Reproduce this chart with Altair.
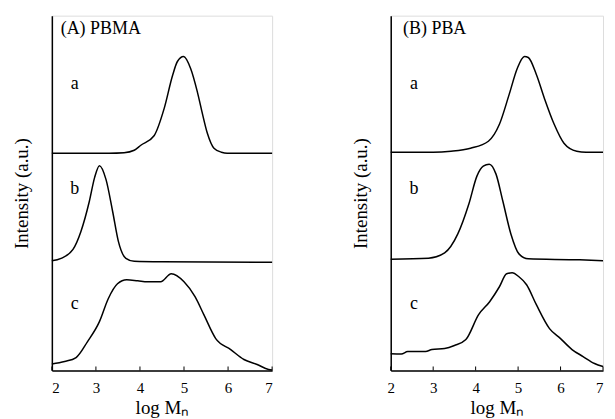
import altair as alt
import pandas as pd

# ---- data (log Mn, intensity in a.u. above each curve's own baseline) ----
A_a_x = [2.0, 3.3, 3.64, 3.87, 4.02, 4.32, 4.55, 4.74, 4.85, 4.99, 5.15, 5.30, 5.40, 5.53, 5.68, 5.85, 5.98, 7.0]
A_a_y = [0, 0, 0.5, 3, 8, 17.5, 45, 78, 92, 97, 85, 62, 43, 20, 5, 1, 0, 0]
A_b_x = [2.0, 2.21, 2.48, 2.66, 2.85, 2.97, 3.08, 3.23, 3.38, 3.51, 3.68, 3.87, 4.5, 7.0]
A_b_y = [1.5, 4, 13, 31, 61, 85, 97, 83, 51, 21, 4, 1, 0.5, 0]
A_c_x = [2.0, 2.29, 2.55, 2.81, 3.08, 3.28, 3.49, 3.70, 3.95, 4.17, 4.47, 4.71, 5.00, 5.25, 5.45, 5.72, 6.06, 6.36, 6.66, 6.92, 7.0]
A_c_y = [6.5, 9, 13, 29, 49, 72, 87, 91, 90, 89, 89, 97, 89, 74, 56, 32, 21, 11, 6, 1, 0.5]

B_a_x = [2.0, 3.0, 3.42, 3.88, 4.30, 4.56, 4.79, 4.98, 5.15, 5.24, 5.43, 5.62, 5.85, 6.08, 6.38, 6.6, 7.0]
B_a_y = [0, 0, 1, 4, 11, 28, 58, 84, 96, 95, 78, 54, 28, 9, 1, 0, 0]
B_b_x = [2.0, 2.89, 3.27, 3.58, 3.84, 4.03, 4.18, 4.32, 4.48, 4.64, 4.83, 5.02, 5.24, 6.45, 7.0]
B_b_y = [1.7, 2.7, 8, 27, 57, 85, 95, 97, 87, 60, 27, 7, 2, 1, 0]
B_c_x = [2.0, 2.25, 2.40, 2.82, 2.97, 3.27, 3.50, 3.77, 4.07, 4.33, 4.56, 4.73, 4.86, 5.02, 5.20, 5.43, 5.74, 6.00, 6.27, 6.53, 6.80, 7.0]
B_c_y = [16.7, 16.5, 19, 19, 21, 22, 25, 31, 56, 69, 84, 97, 98, 94, 86, 66, 42, 32, 21, 14, 7, 4]

curve_names = ["a", "b", "c"]
A_offsets = [2.18, 1.085, 0.0]
B_offsets = [2.19, 1.10, 0.0]
scale_div = 100.0

panel_titles = ["(A) PBMA", "(B) PBA"]
title_x = [2.2, 2.29]
title_y = 3.38
letter_x = [[2.52, 2.52, 2.52], [2.545, 2.545, 2.545]]
letter_y = [2.82, 1.77, 0.62]
tick_values = [2, 3, 4, 5, 6, 7]

FONT = "Liberation Serif"


def build_df(xs, ys, offsets):
    rows = []
    for name, x, y, off in zip(curve_names, xs, ys, offsets):
        for xi, yi in zip(x, y):
            rows.append({"curve": name, "x": xi, "y": off + yi / scale_div})
    return pd.DataFrame(rows)


def panel(df, title, tx, lx, width, flush_last=False):
    xs = alt.Scale(domain=[2, 7], nice=False, zero=False)
    ys = alt.Scale(domain=[0, 3.56], nice=False, zero=False)
    xaxis_kw = dict(values=tick_values, format="d", ticks=False, grid=False,
                    domainColor="black", domainWidth=1.5,
                    labelFont=FONT, labelFontSize=15, labelColor="black", labelPadding=10,
                    title="log Mₙ", titleFont=FONT, titleFontSize=19,
                    titleFontWeight="normal", titleColor="black", titlePadding=3)
    if flush_last:
        xaxis_kw["labelAlign"] = {"condition": {"test": "datum.value >= 7", "value": "right"},
                                  "value": "center"}
    xaxis = alt.Axis(**xaxis_kw)
    yaxis = alt.Axis(labels=False, ticks=False, grid=False,
                     domainColor="black", domainWidth=1.5,
                     title="Intensity (a.u.)", titleFont=FONT, titleFontSize=19,
                     titleFontWeight="normal", titleColor="black", titlePadding=20)
    lines = alt.Chart(df).mark_line(color="black", strokeWidth=1.5, interpolate="monotone").encode(
        x=alt.X("x:Q", scale=xs, axis=xaxis),
        y=alt.Y("y:Q", scale=ys, axis=yaxis),
        detail="curve:N",
    )
    tdf = pd.DataFrame({"x": [tx], "y": [title_y], "t": [title]})
    ttl = alt.Chart(tdf).mark_text(font=FONT, fontSize=18, align="left", baseline="alphabetic",
                                   color="black").encode(x="x:Q", y="y:Q", text="t:N")
    ldf = pd.DataFrame({"x": lx, "y": letter_y, "t": curve_names})
    lets = alt.Chart(ldf).mark_text(font=FONT, fontSize=18, align="center", baseline="alphabetic",
                                    color="black").encode(x="x:Q", y="y:Q", text="t:N")
    kdf = pd.DataFrame({"x": tick_values})
    ticks = alt.Chart(kdf).mark_rule(color="black", strokeWidth=1).encode(
        x="x:Q", y=alt.value(352), y2=alt.value(356))
    return alt.layer(lines, ttl, lets, ticks).properties(width=width, height=356)


dfA = build_df([A_a_x, A_b_x, A_c_x], [A_a_y, A_b_y, A_c_y], A_offsets)
dfB = build_df([B_a_x, B_b_x, B_c_x], [B_a_y, B_b_y, B_c_y], B_offsets)

pA = panel(dfA, panel_titles[0], title_x[0], letter_x[0], 221)
pB = panel(dfB, panel_titles[1], title_x[1], letter_x[1], 213, flush_last=True)

chart = alt.hconcat(pA, pB, spacing=119, bounds="flush").properties(
    padding={"left": 4, "top": 6, "right": 0, "bottom": 0}
).configure_view(stroke=None).configure(background="white")

chart.save("out.html", embed_options={"renderer": "svg", "actions": False})
